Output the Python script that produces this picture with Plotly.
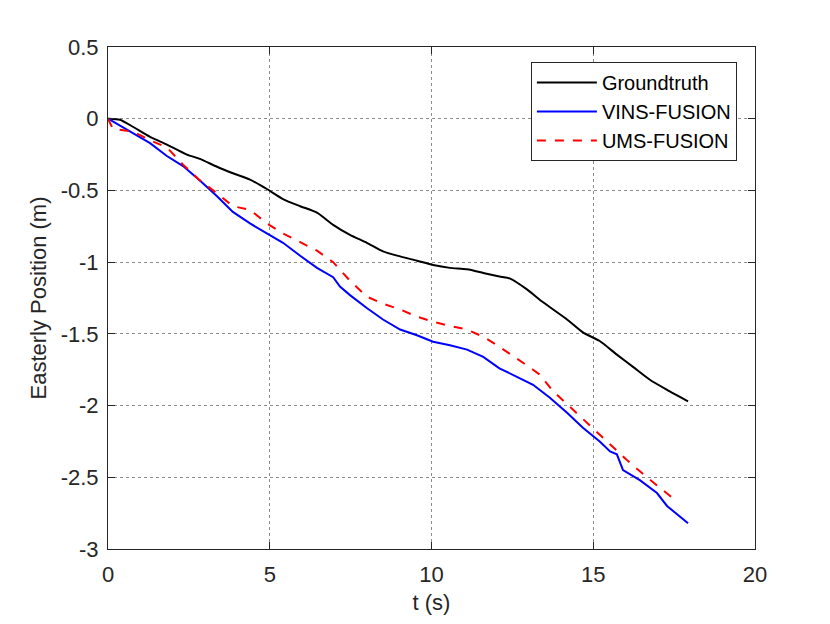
import plotly.graph_objects as go

gt_t = [0, 0.37, 0.77, 1.30, 1.82, 2.44, 2.84, 3.37, 3.86, 4.39, 4.91, 5.41, 5.94, 6.46, 6.96, 7.48,
        8.0, 8.5, 9.03, 9.55, 10.05, 10.57, 11.1, 11.6, 12.1, 12.43, 12.95, 13.45, 14.19, 14.68,
        15.2, 15.73, 16.23, 16.75, 17.28, 17.93]
gt_y = [0, -0.007, -0.056, -0.126, -0.18, -0.25, -0.28, -0.335, -0.38, -0.425, -0.49, -0.56, -0.61,
        -0.655, -0.74, -0.81, -0.865, -0.925, -0.96, -0.99, -1.02, -1.04, -1.05, -1.075, -1.10, -1.115,
        -1.19, -1.28, -1.40, -1.49, -1.55, -1.645, -1.73, -1.82, -1.89, -1.97]

vins_t = [0, 0.77, 1.30, 1.82, 2.32, 2.84, 3.37, 3.86, 4.39, 4.91, 5.41, 5.94, 6.46, 6.96, 7.17, 7.48,
          8.0, 8.5, 9.03, 9.55, 10.05, 10.57, 11.1, 11.6, 12.1, 12.64, 13.14, 13.66, 14.19, 14.68,
          15.2, 15.52, 15.73, 15.92, 16.44, 16.97, 17.28, 17.93]
vins_y = [0, -0.10, -0.17, -0.26, -0.33, -0.43, -0.54, -0.65, -0.73, -0.80, -0.865, -0.955, -1.04,
          -1.105, -1.17, -1.23, -1.32, -1.40, -1.47, -1.51, -1.555, -1.58, -1.61, -1.66, -1.74, -1.80,
          -1.855, -1.945, -2.05, -2.155, -2.25, -2.32, -2.34, -2.45, -2.52, -2.61, -2.70, -2.82]

ums_t = [0, 0.15, 0.77, 1.30, 1.82, 2.32, 2.84, 3.37, 3.86, 4.39, 4.91, 5.41, 5.94, 6.46, 6.96, 7.48,
         8.0, 8.5, 9.03, 9.55, 10.05, 10.57, 11.1, 11.6, 12.1, 12.64, 13.14, 13.35, 13.76, 14.19,
         14.8, 15.43, 16.04, 16.66, 17.43]
ums_y = [0, -0.07, -0.09, -0.15, -0.20, -0.32, -0.43, -0.52, -0.61, -0.635, -0.73, -0.80, -0.86,
         -0.92, -1.0, -1.13, -1.24, -1.29, -1.33, -1.38, -1.415, -1.445, -1.47, -1.52, -1.59, -1.67,
         -1.75, -1.785, -1.90, -1.99, -2.12, -2.25, -2.38, -2.50, -2.64]

x_ticks = [0, 5, 10, 15, 20]
y_ticks = [0.5, 0, -0.5, -1, -1.5, -2, -2.5, -3]
y_tick_text = ["0.5", "0", "-0.5", "-1", "-1.5", "-2", "-2.5", "-3"]

FONT = "Liberation Sans, Arial, sans-serif"

fig = go.Figure()
fig.add_trace(go.Scatter(x=gt_t, y=gt_y, mode="lines", name="Groundtruth",
                         line=dict(color="black", width=2, shape="spline", smoothing=0.6)))
fig.add_trace(go.Scatter(x=vins_t, y=vins_y, mode="lines", name="VINS-FUSION",
                         line=dict(color="#0000ff", width=2)))
fig.add_trace(go.Scatter(x=ums_t, y=ums_y, mode="lines", name="UMS-FUSION",
                         line=dict(color="#ff0000", width=2, dash="dash")))

axis_common = dict(showline=True, linecolor="#262626", linewidth=1, mirror="ticks",
                   ticks="inside", ticklen=7, tickcolor="#262626",
                   showgrid=True, gridcolor="#8c8c8c", griddash="dot", gridwidth=1,
                   zeroline=False, tickfont=dict(family=FONT, size=22, color="#262626"),
                   title_font=dict(family=FONT, size=22, color="#262626"))

fig.update_xaxes(range=[0, 20], tickvals=x_ticks, title_text="t (s)", title_standoff=8,
                 ticklabelstandoff=6, **axis_common)
fig.update_yaxes(range=[-3, 0.5], tickvals=y_ticks, ticktext=y_tick_text,
                 title_text="Easterly Position (m)", title_standoff=7,
                 ticklabelstandoff=4, **axis_common)

fig.update_layout(
    width=830, height=624,
    margin=dict(l=100, r=83, t=39, b=83),
    paper_bgcolor="white", plot_bgcolor="white",
    font=dict(family=FONT, size=20, color="black"),
    legend=dict(x=0.972, y=0.970, xanchor="right", yanchor="top",
                bgcolor="white", bordercolor="#262626", borderwidth=1,
                font=dict(family=FONT, size=20, color="black"),
                itemwidth=60, tracegroupgap=0),
    showlegend=True,
)

fig.write_html("out.html")
